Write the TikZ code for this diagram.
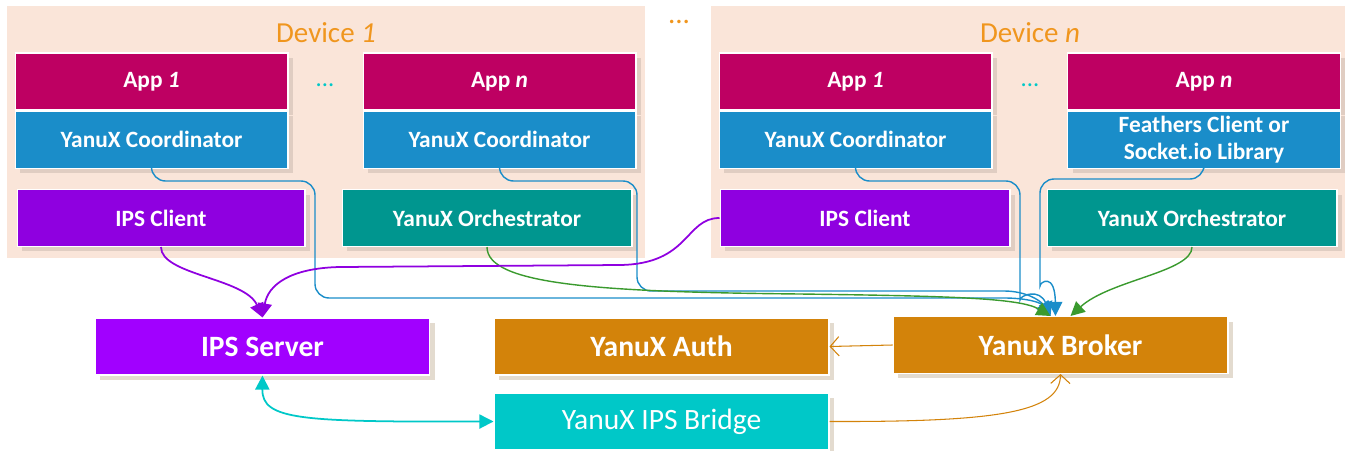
\documentclass[tikz,border=0pt]{standalone}
\usepackage{fontspec}
\setmainfont{Carlito}
\usepackage{tikz}
\usetikzlibrary{arrows.meta,positioning,shadows}

\definecolor{appcol}{HTML}{BE0062}
\definecolor{coordcol}{HTML}{1A8DC9}
\definecolor{clientcol}{HTML}{8F00E0}
\definecolor{servercol}{HTML}{A100FF}
\definecolor{orchcol}{HTML}{00968F}
\definecolor{yxorange}{HTML}{D3830A}
\definecolor{bridgecol}{HTML}{00C8C8}
\definecolor{devbg}{HTML}{FAE5D9}
\definecolor{devtext}{HTML}{F0961E}
\definecolor{linegreen}{HTML}{3A9A2E}

\begin{document}
\begin{tikzpicture}[x=0.02cm,y=-0.02cm,>={Triangle[length=8pt,width=8pt]},semithick,
    comp/.style={rectangle, draw=white, line width=0.6pt, text=white,
                 minimum width=5.46cm, minimum height=1.14cm, inner sep=1pt,
                 align=center, font=\fontsize{13.3}{15}\selectfont\bfseries,
                 drop shadow={shadow xshift=0.1cm, shadow yshift=-0.1cm, fill=black, opacity=0.1}},
    service/.style={comp, minimum width=6.7cm, font=\fontsize{16.8}{18}\selectfont\bfseries,
                 drop shadow={shadow xshift=0.1cm, shadow yshift=-0.1cm, fill=yxorange, opacity=0.1}},
    devlabel/.style={text=devtext, font=\fontsize{16.5}{18}\selectfont},
    dots/.style={text=bridgecol, font=\fontsize{14}{16}\selectfont},
    conn/.style={line width=0.8pt, rounded corners=8pt},
    open/.style={line width=0.6pt, yxorange, -{Straight Barb[length=5pt,width=11pt]}}]

  \useasboundingbox (0,0) rectangle (1349,450);

  \fill[devbg] (7,6) rectangle (645,258);
  \fill[devbg] (711,6) rectangle (1345,258);
  \node[devlabel] (dev1) at (326,33) {Device \textit{1}};
  \node[devlabel] (devn) at (1030,33) {Device \textit{n}};
  \node[devlabel] (devdots) at (679,22) {...};

  % device 1
  \node[comp, fill=appcol]   (app11) at (151.5,81.5) {App \textit{1}};
  \node[comp, fill=coordcol] (crd11) [below=0pt of app11] {YanuX Coordinator};
  \node[comp, fill=appcol]   (app1n) at (499.5,81.5) {App \textit{n}};
  \node[comp, fill=coordcol] (crd1n) [below=0pt of app1n] {YanuX Coordinator};
  \node[dots] (dots1) at (325,85) {...};
  \node[comp, fill=clientcol, minimum width=5.76cm] (cli1) at (161,218) {IPS Client};
  \node[comp, fill=orchcol, minimum width=5.8cm]    (orc1) at (487,218) {YanuX Orchestrator};

  % device n
  \node[comp, fill=appcol]   (appn1) at (855.5,81.5) {App \textit{1}};
  \node[comp, fill=coordcol] (crdn1) [below=0pt of appn1] {YanuX Coordinator};
  \node[comp, fill=appcol]   (appnn) at (1204,81.5) {App \textit{n}};
  \node[comp, fill=coordcol, font=\fontsize{13.3}{15.5}\selectfont\bfseries]
                             (lib)   [below=0pt of appnn] {Feathers Client or\\Socket.io Library};
  \node[dots] (dotsn) at (1030,85) {...};
  \node[comp, fill=clientcol, minimum width=5.8cm] (clin) at (865,218) {IPS Client};
  \node[comp, fill=orchcol, minimum width=5.8cm]   (orcn) at (1192,218) {YanuX Orchestrator};

  % services
  \node[service, fill=servercol] (server) at (262.5,346.5) {IPS Server};
  \node[service, fill=yxorange]  (auth)   at (661.5,346.5) {YanuX Auth};
  \node[service, fill=yxorange]  (broker) at (1060.5,345)  {YanuX Broker};
  \node[service, fill=bridgecol, font=\fontsize{16.8}{18}\selectfont] (bridge) at (661.5,421.5) {YanuX IPS Bridge};

  % connections to the broker
  \draw[conn, coordcol, ->] (crd11.south) |- (315,181) -- (315,298) -- (990,298)
        .. controls (1025,298) and (1040,302) .. ([xshift=-0.2cm]broker.north);
  \draw[conn, coordcol, ->] (crd1n.south) |- (637,181) -- (637,291) -- (990,291)
        .. controls (1025,291) and (1040,300) .. ([xshift=-0.2cm]broker.north);
  \draw[conn, coordcol, ->] (crdn1.south) |- (1020,181) -- (1020,286)
        .. controls (1020,295) and (1040,288) .. ([xshift=-0.2cm]broker.north);
  \draw[conn, coordcol, ->] (lib.south) |- (1040,179) -- (1040,272)
        .. controls (1040,282) and (1055,272) .. ([xshift=-0.1cm]broker.north);
  \draw[line width=0.8pt, linegreen, ->] (orc1.south) .. controls (487,285) and (600,292) .. (800,294)
        .. controls (950,296) and (1020,298) .. ([xshift=-0.2cm]broker.north);
  \draw[line width=0.8pt, linegreen, ->] (orcn.south) .. controls (1192,272) and (1110,280) .. ([xshift=0.2cm]broker.north);

  % connections to the positioning server
  \draw[line width=1pt, clientcol, ->] (cli1.south) .. controls (161,275) and (245,278) .. (server.north);
  \draw[line width=1pt, clientcol, ->] (clin.west) .. controls (685,218) and (690,264) .. (620,265)
        -- (340,267) .. controls (290,268) and (268,285) .. (server.north);
  \draw[line width=1pt, bridgecol, <->] (server.south) .. controls (262,420) and (300,422) .. (bridge.west);

  \draw[open] (broker.west) -- (auth.east);
  \draw[open] (bridge.east) .. controls (1000,422) and (1060,412) .. (broker.south);
\end{tikzpicture}
\end{document}
